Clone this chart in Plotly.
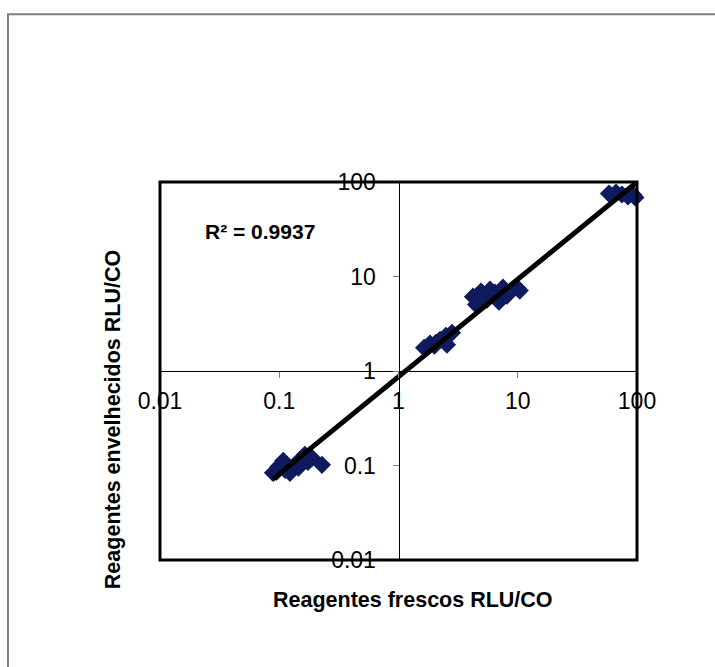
import plotly.graph_objects as go

# Fresh vs. aged reagent readings (RLU/CO)
fresh_rlu = [0.0886, 0.098, 0.108, 0.112, 0.123, 0.138, 0.149, 0.164, 0.174, 0.188, 0.228, 0.145, 0.095,
             1.64, 1.84, 2.06, 2.23, 2.50, 2.81, 2.55, 2.00,
             4.21, 4.47, 4.92, 5.52, 5.85, 6.44, 6.96, 7.52, 8.12, 9.86, 10.4, 5.2,
             58.2, 66.7, 74.8, 84.0, 92.5, 97.0]
aged_rlu = [0.0836, 0.0966, 0.112, 0.090, 0.0836, 0.1016, 0.1148, 0.130, 0.109, 0.1205, 0.1016, 0.095, 0.086,
            1.76, 1.95, 1.99, 2.14, 2.36, 2.54, 1.90, 1.85,
            6.12, 5.04, 6.92, 5.69, 7.26, 6.75, 5.42, 7.62, 6.28, 7.62, 7.10, 6.30,
            75.5, 77.4, 73.7, 70.2, 73.7, 68.5]

# Power trendline y = a * x^b
trend_a = 0.871
trend_b = 1.03
r2_text = "R² = 0.9937"

tick_vals = [0.01, 0.1, 1, 10, 100]
tick_text = ["0.01", "0.1", "1", "10", "100"]

x_title = "Reagentes frescos RLU/CO"
y_title = "Reagentes envelhecidos RLU/CO"

FONT = "Liberation Sans, Arial, sans-serif"

x_lo, x_hi = min(fresh_rlu), max(fresh_rlu)
trend_x = [x_lo, x_hi]
trend_y = [trend_a * v ** trend_b for v in trend_x]

fig = go.Figure()
fig.add_trace(go.Scatter(
    x=fresh_rlu, y=aged_rlu, mode="markers",
    marker=dict(symbol="diamond", size=14, color="#101a5e", line=dict(width=0)),
    showlegend=False, cliponaxis=False,
))
fig.add_trace(go.Scatter(
    x=trend_x, y=trend_y, mode="lines",
    line=dict(color="black", width=5),
    showlegend=False,
))

axis_common = dict(
    type="log", range=[-2, 2],
    tickvals=tick_vals, ticktext=tick_text,
    showgrid=False, zeroline=False,
    showline=True, linecolor="black", linewidth=1,
    ticks="outside", ticklen=6, tickcolor="#808080", tickwidth=1,
    tickfont=dict(family=FONT, size=23, color="black"),
    anchor="free", position=0.5,
)

fig.update_layout(
    width=715, height=667,
    margin=dict(l=160, r=78, t=182, b=107),
    paper_bgcolor="white", plot_bgcolor="white",
    xaxis=dict(**axis_common, side="bottom", ticklabelstandoff=3),
    yaxis=dict(**axis_common, side="left", ticklabelstandoff=12),
    font=dict(family=FONT, color="black"),
)

# Plot-area border and outer chart frame
fig.add_shape(type="rect", xref="paper", yref="paper", x0=0, y0=0, x1=1, y1=1,
              line=dict(color="black", width=3), layer="above")
fig.add_shape(type="rect", xref="paper", yref="paper",
              x0=-0.3187, y0=-0.32, x1=1.2, y1=1.4437,
              line=dict(color="#808080", width=2), layer="below")

fig.add_annotation(text="<b>" + x_title + "</b>", xref="paper", yref="paper",
                   x=0.53, y=-0.106, xanchor="center", yanchor="middle", showarrow=False,
                   font=dict(family=FONT, size=21.5, color="black"))
fig.add_annotation(text="<b>" + y_title + "</b>", xref="paper", yref="paper",
                   x=-0.0985, y=0.37, xanchor="center", yanchor="middle", showarrow=False,
                   textangle=-90,
                   font=dict(family=FONT, size=21.5, color="black"))
fig.add_annotation(text="<b>" + r2_text + "</b>", xref="paper", yref="paper",
                   x=0.21, y=0.869, xanchor="center", yanchor="middle", showarrow=False,
                   font=dict(family=FONT, size=21, color="black"))

fig.write_html("out.html")
